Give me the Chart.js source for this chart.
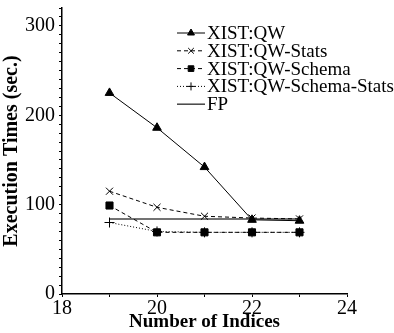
<!DOCTYPE html>
<html>
<head>
<meta charset="utf-8">
<script src="https://cdn.jsdelivr.net/npm/chart.js@4"></script>
<style>
  html, body { margin: 0; padding: 0; background: #fff; }
  #wrap { width: 394px; height: 333px; }
</style>
</head>
<body>
<div id="wrap"><canvas id="myChart" width="394" height="333"></canvas></div>
<script>
// number of indices
const indices = [19, 20, 21, 22, 23];
const qw = [225, 186, 142, 83, 82];
const qwStats = [115, 97, 87, 85, 84];
const qwSchema = [99, 69, 69, 69, 69];
const qwSchemaStats = [80, 70, 69, 69, 69];
const fp = [84, 84, 84, 84, 84];
const xTicks = [18, 20, 22, 24];
const yTicks = [0, 100, 200, 300];

const serif = "'Liberation Serif', 'DejaVu Serif', serif";
const pts = (vals) => indices.map((x, i) => ({ x: x, y: vals[i] }));

const series = [
  { label: "XIST:QW", data: pts(qw), dash: [], style: "triangle", r: 5, color: "#000" },
  { label: "XIST:QW-Stats", data: pts(qwStats), dash: [4, 3], style: "crossRot", r: 5, color: "#000" },
  { label: "XIST:QW-Schema", data: pts(qwSchema), dash: [4, 3], style: "rect", r: 5, color: "#000" },
  { label: "XIST:QW-Schema-Stats", data: pts(qwSchemaStats), dash: [1, 2], style: "cross", r: 5, color: "#000" },
  { label: "FP", data: pts(fp), dash: [], style: false, r: 0, color: "#444" },
];

// legend with line sample + marker, drawn by hand
const legendPlugin = {
  id: "sampleLegend",
  afterDraw(chart) {
    const ctx = chart.ctx;
    ctx.save();
    series.forEach((s, i) => {
      const y = 33 + i * 17.8;
      ctx.strokeStyle = s.color;
      ctx.lineWidth = s.label === "FP" ? 1.5 : 1;
      ctx.setLineDash(s.dash);
      ctx.beginPath();
      ctx.moveTo(177, y);
      ctx.lineTo(205, y);
      ctx.stroke();
      ctx.setLineDash([]);
      if (s.style) {
        ctx.fillStyle = "#000";
        Chart.helpers.drawPoint(ctx, { pointStyle: s.style, radius: 4, borderWidth: 1, rotation: 0 }, 191, y);
      }
      ctx.fillStyle = "#000";
      ctx.font = "19px " + serif;
      ctx.textBaseline = "middle";
      ctx.textAlign = "left";
      ctx.fillText(s.label, 207, y + 1);
    });
    ctx.restore();
  }
};

const ctx = document.getElementById("myChart").getContext("2d");
const myChart = new Chart(ctx, {
  type: "line",
  data: {
    datasets: series.map(s => ({
      label: s.label,
      data: s.data,
      borderColor: s.color,
      backgroundColor: "#000",
      borderWidth: s.label === "FP" ? 1.5 : 1,
      borderDash: s.dash,
      pointStyle: s.style,
      pointRadius: s.r,
      pointBorderColor: "#000",
      pointBackgroundColor: "#000",
      pointBorderWidth: 1,
      tension: 0,
    })),
  },
  options: {
    responsive: false,
    animation: false,
    events: [],
    layout: { padding: { left: 0, right: 47, top: 8, bottom: 0 } },
    plugins: { legend: { display: false }, tooltip: { enabled: false } },
    scales: {
      x: {
        type: "linear",
        min: 18,
        max: 24,
        afterBuildTicks(scale) {
          scale.ticks = [18, 19, 20, 21, 22, 23, 24].map(v => ({ value: v }));
        },
        ticks: {
          autoSkip: false,
          maxRotation: 0,
          padding: 0,
          color: "#000",
          font: { family: serif, size: 20 },
          callback: (v) => (xTicks.includes(v) ? String(v) : ""),
        },
        grid: { drawOnChartArea: false, tickLength: 3, color: "#000" },
        border: { color: "#000", width: 1.5 },
        title: {
          display: true,
          text: "Number of Indices",
          color: "#000",
          padding: { top: -6, bottom: 0 },
          font: { family: serif, size: 19, weight: "bold" },
        },
        afterFit(scale) { scale.height = 39; },
      },
      y: {
        min: 0,
        max: 320,
        afterBuildTicks(scale) {
          const t = [];
          for (let v = 0; v <= 320; v += 10) t.push({ value: v });
          scale.ticks = t;
        },
        ticks: {
          autoSkip: false,
          padding: 4,
          color: "#000",
          font: { family: serif, size: 20 },
          callback: (v) => (yTicks.includes(v) ? String(v) : ""),
        },
        grid: { drawOnChartArea: false, tickLength: 3, color: "#000" },
        border: { color: "#000", width: 1.5 },
        title: {
          display: true,
          text: "Execution Times (sec.)",
          color: "#000",
          padding: { top: 0, bottom: 0 },
          font: { family: serif, size: 20, weight: "bold" },
        },
        afterFit(scale) {
          scale.width = 62;
          scale.paddingTop = 0;
          scale.paddingBottom = 0;
        },
      },
    },
  },
  plugins: [legendPlugin],
});
</script>
</body>
</html>
